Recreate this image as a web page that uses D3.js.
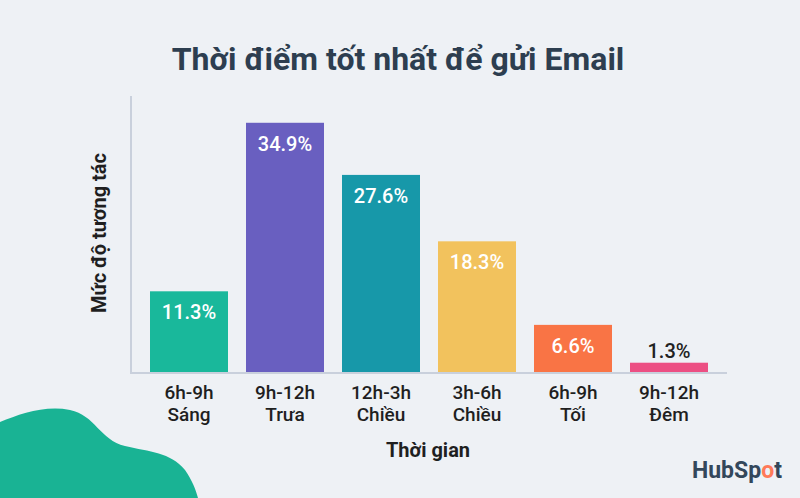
<!DOCTYPE html>
<html>
  <head>
    <meta charset="utf-8">
    <script type="text/javascript" src="https://cdn.jsdelivr.net/npm/d3@7/dist/d3.min.js"></script>
    <style>
      body { margin: 0; background: #eef1f5; }
      text { font-family: Roboto, "Noto Sans", sans-serif; }
    </style>
  </head>
  <body>
    <div id="viz"></div>
    <script type="text/javascript">
      // data
      const timeRanges = ["6h-9h", "9h-12h", "12h-3h", "3h-6h", "6h-9h", "9h-12h"];
      const dayParts = ["Sáng", "Trưa", "Chiều", "Chiều", "Tối", "Đêm"];
      const engagement = [11.3, 34.9, 27.6, 18.3, 6.6, 1.3];
      const barColors = ["#19b89b", "#695fc0", "#1798a9", "#f2c25d", "#f97445", "#ec4f83"];

      const width = 800;
      const height = 498;

      const svg = d3.select("#viz")
        .append("svg")
        .attr("width", width)
        .attr("height", height);

      svg.append("rect")
        .attr("width", width)
        .attr("height", height)
        .attr("fill", "#eef1f5");

      // green blob bottom left
      svg.append("path")
        .attr("d", "M0,422 C20,414 45,405 70,410 C95,415 100,440 125,446 C150,452 170,452 185,470 C192,480 196,490 198,498 L0,498 Z")
        .attr("fill", "#19b394");

      const keys = d3.range(engagement.length);

      const x = d3.scaleBand()
        .domain(keys)
        .range([141, 717])
        .paddingInner(0.1875)
        .paddingOuter(0.09375);

      const y = d3.scaleLinear()
        .domain([0, 38.65])
        .range([372, 96]);

      // title
      svg.append("text")
        .attr("x", 398)
        .attr("y", 70)
        .attr("text-anchor", "middle")
        .attr("font-size", 32)
        .attr("font-weight", "bold")
        .attr("fill", "#2d3e50")
        .text("Thời điểm tốt nhất để gửi Email");

      // bars
      svg.selectAll("rect.bar")
        .data(keys)
        .enter()
        .append("rect")
        .attr("class", "bar")
        .attr("x", i => x(i))
        .attr("y", i => y(engagement[i]))
        .attr("width", x.bandwidth())
        .attr("height", i => y(0) - y(engagement[i]))
        .attr("fill", i => barColors[i]);

      // axes lines
      svg.append("line")
        .attr("x1", 131).attr("x2", 131)
        .attr("y1", y.range()[1]).attr("y2", y(0) + 1)
        .attr("stroke", "#c9d0dc").attr("stroke-width", 2);
      svg.append("line")
        .attr("x1", 130).attr("x2", 727)
        .attr("y1", y(0) + 1).attr("y2", y(0) + 1)
        .attr("stroke", "#c9d0dc").attr("stroke-width", 2);

      // value labels
      svg.selectAll("text.val")
        .data(keys)
        .enter()
        .append("text")
        .attr("class", "val")
        .attr("x", i => x(i) + x.bandwidth() / 2)
        .attr("y", i => {
          const h = y(0) - y(engagement[i]);
          return h > 30 ? y(engagement[i]) + 28 : y(engagement[i]) - 5;
        })
        .attr("text-anchor", "middle")
        .attr("font-size", 20)
        .attr("font-weight", 500)
        .attr("fill", i => (y(0) - y(engagement[i]) > 30 ? "#ffffff" : "#222"))
        .text(i => engagement[i] + "%");

      // category labels, two lines each
      function catLine(cls, labels, yPos) {
        svg.selectAll("text." + cls)
          .data(keys)
          .enter()
          .append("text")
          .attr("class", cls)
          .attr("x", i => x(i) + x.bandwidth() / 2)
          .attr("y", yPos)
          .attr("text-anchor", "middle")
          .attr("font-size", 19)
          .attr("font-weight", 500)
          .attr("fill", "#1f1f1f")
          .text(i => labels[i]);
      }
      catLine("range", timeRanges, 399);
      catLine("part", dayParts, 421);

      // axis titles
      svg.append("text")
        .attr("x", 428)
        .attr("y", 457)
        .attr("text-anchor", "middle")
        .attr("font-size", 20)
        .attr("font-weight", "bold")
        .attr("fill", "#1f1f1f")
        .text("Thời gian");

      svg.append("text")
        .attr("transform", "translate(106,233) rotate(-90)")
        .attr("text-anchor", "middle")
        .attr("font-size", 20)
        .attr("font-weight", "bold")
        .attr("fill", "#1f1f1f")
        .text("Mức độ tương tác");

      // HubSpot mark
      const logo = svg.append("text")
        .attr("x", 692)
        .attr("y", 478)
        .attr("font-size", 23)
        .attr("font-weight", "bold")
        .attr("fill", "#33475b");
      logo.append("tspan").text("HubSp");
      logo.append("tspan").attr("fill", "#ff7a59").text("o");
      logo.append("tspan").text("t");
    </script>
  </body>
</html>
